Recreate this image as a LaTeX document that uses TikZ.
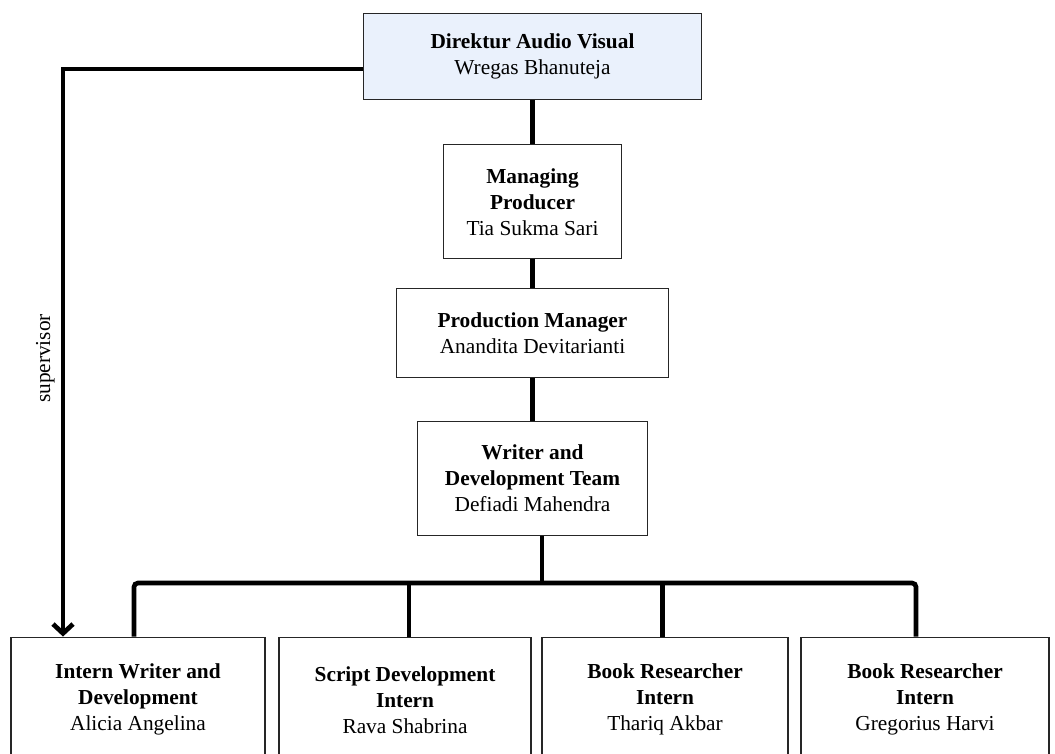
\documentclass[tikz,border=0pt]{standalone}
\usepackage{fontspec}
\setmainfont{Liberation Serif}
\usetikzlibrary{arrows.meta}
\definecolor{headblue}{RGB}{234,241,252}
\tikzstyle{box} = [rectangle, draw=black!85, line width=0.9pt, fill=white, align=center, font=\fontsize{16}{19.5}\selectfont]
\tikzstyle{link} = [line width=3.5pt]
\tikzstyle{arrow} = [line width=3.5pt, -{Straight Barb[length=7pt,width=15pt]}]

\begin{document}
\begin{tikzpicture}[x=0.75pt, y=-0.75pt, node distance=109pt]
\useasboundingbox (0,0) rectangle (1055,753);
\node (dir) [box, fill=headblue, minimum width=254pt, minimum height=65pt] at (532.5,56.5) {\textbf{Direktur Audio Visual}\\Wregas Bhanuteja};
\node (mp) [box, below of=dir, minimum width=134pt, minimum height=85.5pt] {\textbf{Managing}\\\textbf{Producer}\\Tia Sukma Sari};
\node (pm) [box, below of=mp, yshift=10.5pt, minimum width=204pt, minimum height=66.75pt] {\textbf{Production Manager}\\Anandita Devitarianti};
\node (wd) [box, below of=pm, minimum width=173pt, minimum height=85pt] {\textbf{Writer and}\\\textbf{Development Team}\\Defiadi Mahendra};

\node (in1) [box, below of=wd, yshift=-57pt, xshift=-295.9pt, minimum width=190.5pt, minimum height=94pt] {\textbf{Intern Writer and}\\\textbf{Development}\\Alicia Angelina};
\node (in2) [box, below of=wd, yshift=-57pt, xshift=-95.6pt, minimum width=189pt, minimum height=94pt] {\textbf{Script Development}\\\textbf{Intern}\\Rava Shabrina};
\node (in3) [box, below of=wd, yshift=-57pt, xshift=99.4pt, minimum width=184.5pt, minimum height=94pt] {\textbf{Book Researcher}\\\textbf{Intern}\\Thariq Akbar};
\node (in4) [box, below of=wd, yshift=-57pt, xshift=294.4pt, minimum width=186pt, minimum height=94pt] {\textbf{Book Researcher}\\\textbf{Intern}\\Gregorius Harvi};

\coordinate (sup) at (63,69);
\coordinate (bar) at (0,583);

\draw [link] (dir) -- (mp);
\draw [link] (mp) -- (pm);
\draw [link] (pm) -- (wd);
\draw [link] ([xshift=7pt]wd.south) -- ([xshift=7pt]wd.south |- bar);
\draw [link, rounded corners=3pt] ([xshift=-3pt]in1.north) -- ([xshift=-3pt]in1.north |- bar) -- ([xshift=-6.75pt]in4.north |- bar) -- ([xshift=-6.75pt]in4.north);
\draw [link] ([xshift=3pt]in2.north |- bar) -- ([xshift=3pt]in2.north);
\draw [link] ([xshift=-2pt]in3.north |- bar) -- ([xshift=-2pt]in3.north);

\draw [arrow] (dir.west |- sup) -- (sup) -- node (suplbl) [pos=0.51, rotate=90, anchor=south, inner sep=4.5pt, font=\fontsize{16}{19.5}\selectfont] {supervisor} (sup |- in1.north);
\end{tikzpicture}
\end{document}
